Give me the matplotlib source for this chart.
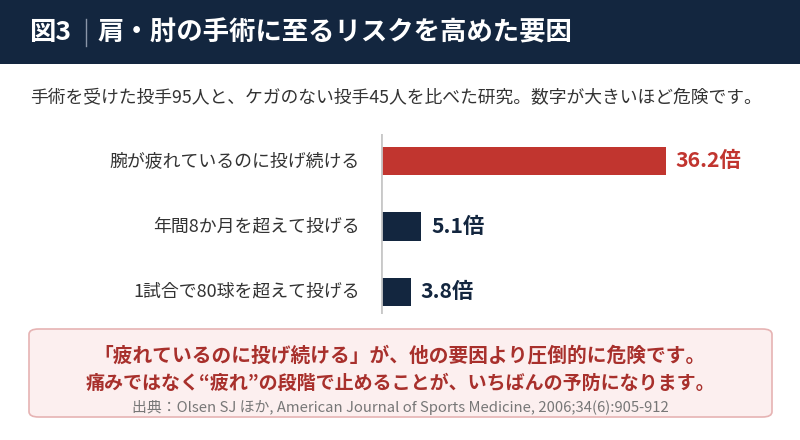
import matplotlib.pyplot as plt
from matplotlib.patches import FancyBboxPatch, Rectangle

plt.rcParams['font.family'] = ['Noto Sans CJK JP', 'DejaVu Sans']

factors = ["腕が疲れているのに投げ続ける", "年間8か月を超えて投げる", "1試合で80球を超えて投げる"]
risk = [36.2, 5.1, 3.8]
value_labels = ["36.2倍", "5.1倍", "3.8倍"]

NAVY = "#13263f"
RED = "#c1352f"
W, H = 800, 440

fig = plt.figure(figsize=(8, 4.4), dpi=100)
fig.patch.set_facecolor("white")


def fx(px):
    return px / W


def fy(py):
    return 1 - py / H


# header band
fig.patches.append(Rectangle((0, fy(64)), 1, 64 / H, transform=fig.transFigure,
                             facecolor=NAVY, edgecolor="none", zorder=0))
fig.text(fx(29), fy(33), "図3", color="white", fontsize=19, fontweight="bold", va="center")
fig.add_artist(plt.Line2D([fx(86), fx(86)], [fy(19), fy(46)], color="#8a96a8",
                          lw=1, transform=fig.transFigure))
fig.text(fx(97), fy(33), "肩・肘の手術に至るリスクを高めた要因", color="white",
         fontsize=19, fontweight="bold", va="center")

fig.text(fx(30), fy(98), "手術を受けた投手95人と、ケガのない投手45人を比べた研究。数字が大きいほど危険です。",
         color="#333333", fontsize=12.8, va="center")

# bar chart
ax_l, ax_r, ax_t, ax_b = 381, 761, 134, 314
ax = fig.add_axes([fx(ax_l), fy(ax_b), (ax_r - ax_l) / W, (ax_b - ax_t) / H])
ax.set_xlim(0, risk[0] * (ax_r - ax_l) / 285)
ax.set_ylim(2.336, -0.41)
ypos = list(range(len(factors)))
colors = [RED, NAVY, NAVY]
ax.barh(ypos, risk, height=0.43, color=colors, zorder=2)
for y, v, lab, c in zip(ypos, risk, value_labels, colors):
    ax.text(v + 1.25, y, lab, color=c, fontsize=15.3, fontweight="bold", va="center", ha="left")
    ax.text(-2.7, y, factors[y], color="#333333", fontsize=12.9, va="center", ha="right")
ax.axvline(0, color="#c8c8c8", lw=2, zorder=3)
for s in ax.spines.values():
    s.set_visible(False)
ax.set_xticks([])
ax.set_yticks([])
ax.patch.set_alpha(0)

# summary box
box = FancyBboxPatch((fx(29), fy(417)), (772 - 29) / W, (417 - 329) / H,
                     boxstyle="round,pad=0,rounding_size=0.012", transform=fig.transFigure,
                     facecolor="#fcefef", edgecolor="#e6b3b3", lw=1.2)
fig.patches.append(box)
fig.text(0.5, fy(355), "「疲れているのに投げ続ける」が、他の要因より圧倒的に危険です。",
         color="#a8302c", fontsize=14.2, fontweight="bold", ha="center", va="center")
fig.text(0.5, fy(383), "痛みではなく“疲れ”の段階で止めることが、いちばんの予防になります。",
         color="#a8302c", fontsize=13.7, fontweight="bold", ha="center", va="center")
fig.text(0.5, fy(407), "出典：Olsen SJ ほか, American Journal of Sports Medicine, 2006;34(6):905-912",
         color="#777777", fontsize=10.7, ha="center", va="center")

fig.savefig("out.png", dpi=100)
